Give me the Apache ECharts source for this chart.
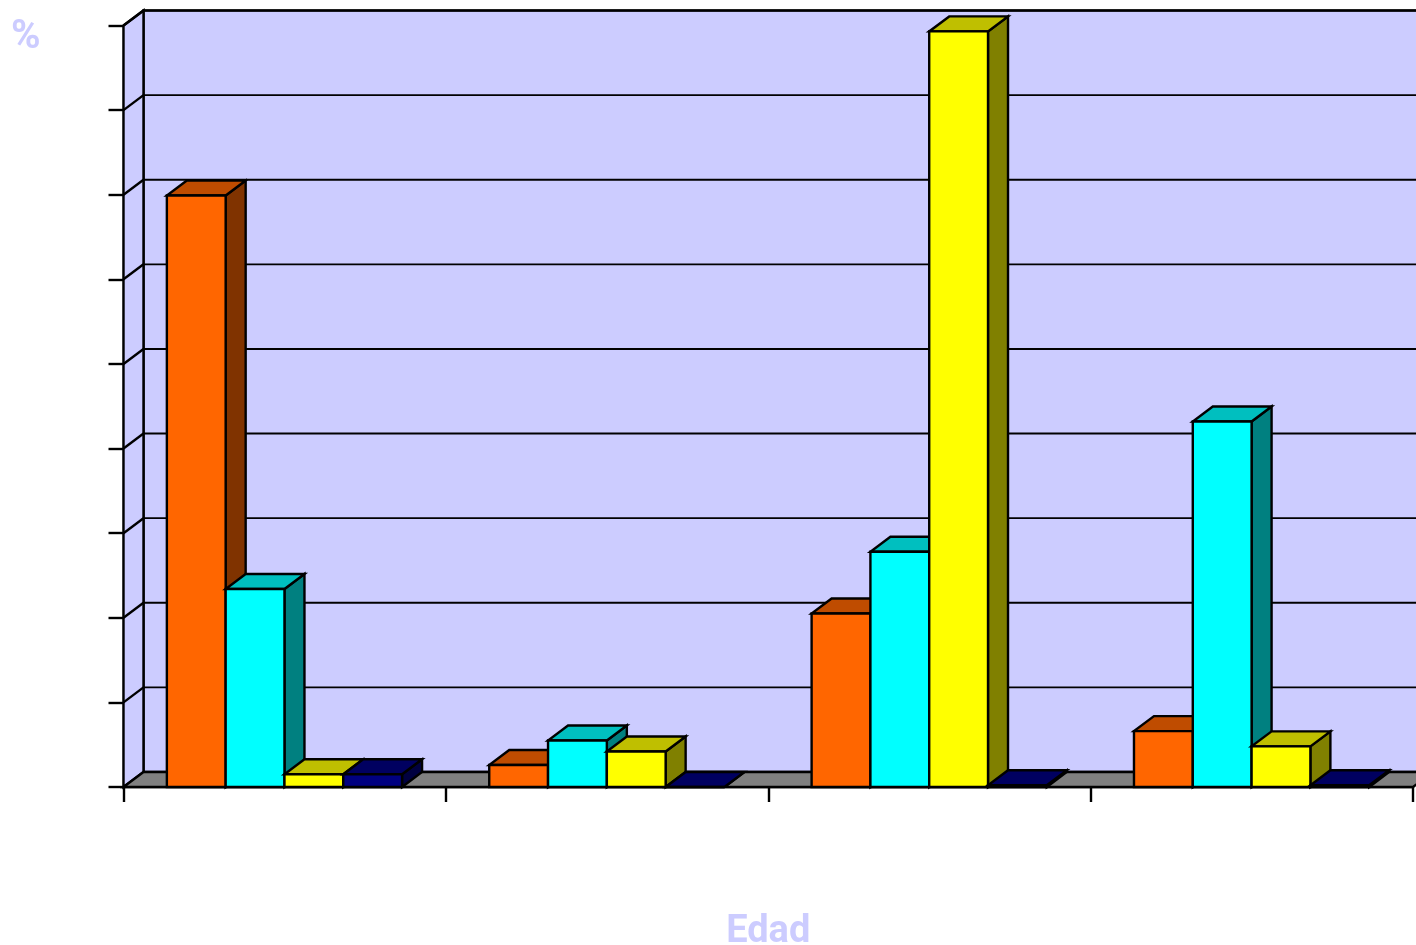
<!DOCTYPE html>
<html>
<head>
<meta charset="utf-8">
<style>html,body{margin:0;padding:0;background:#fff}#c{width:1416px;height:945px}</style>
<script src="https://cdn.jsdelivr.net/npm/echarts@6/dist/echarts.min.js"></script>
</head>
<body>
<div id="c"></div>
<script>
const categories = ['Grupo 1', 'Grupo 2', 'Grupo 3', 'Grupo 4'];
const seriesA = [69.9, 2.6, 20.5, 6.6];
const seriesB = [23.4, 5.5, 27.8, 43.2];
const seriesC = [1.5, 4.2, 89.3, 4.8];
const seriesD = [1.5, 0, 0.2, 0.2];
const yTicks = [0, 10, 20, 30, 40, 50, 60, 70, 80, 90];

const faceColors = ['#FF6600', '#00FFFF', '#FFFF00', '#000080'];
const topColors = ['#BF4C00', '#00BFBF', '#BFBF00', '#000060'];
const sideColors = ['#803300', '#008080', '#808000', '#000040'];
const DX = 20, DY = 15;
const GROUP_START = 0.1345, BAR_FRAC = 0.1824;
const LW = 2.4;

function poly(points, fill) {
  return { type: 'polygon', shape: { points }, style: { fill, stroke: '#000', lineWidth: LW } };
}

function renderBar(k) {
  return function (params, api) {
    const cat = api.value(0), val = api.value(1);
    const size = api.size([1, 0])[0];
    const cx = api.coord([cat, 0])[0];
    const y0 = api.coord([cat, 0])[1];
    const y = api.coord([cat, val])[1];
    const w = size * BAR_FRAC;
    const x0 = cx - size / 2 + size * GROUP_START + k * w;
    const x1 = x0 + w;
    return {
      type: 'group',
      children: [
        poly([[x1, y], [x1 + DX, y - DY], [x1 + DX, y0 - DY], [x1, y0]], sideColors[k]),
        poly([[x0, y], [x1, y], [x1 + DX, y - DY], [x0 + DX, y - DY]], topColors[k]),
        poly([[x0, y], [x1, y], [x1, y0], [x0, y0]], faceColors[k])
      ]
    };
  };
}

function renderWalls(params, api) {
  const cs = params.coordSys;
  const l = cs.x, r = cs.x + cs.width, t = cs.y, b = cs.y + cs.height;
  return {
    type: 'group',
    children: [
      poly([[l + DX, t - DY], [r + DX, t - DY], [r + DX, b - DY], [l + DX, b - DY]], '#CCCCFF'),
      poly([[l, t], [l + DX, t - DY], [l + DX, b - DY], [l, b]], '#CCCCFF'),
      poly([[l, b], [l + DX, b - DY], [r + DX, b - DY], [r, b]], '#808080')
    ]
  };
}

function renderGridLine(params, api) {
  const cs = params.coordSys;
  const l = cs.x, r = cs.x + cs.width;
  const y = api.coord([0, api.value(0)])[1];
  return {
    type: 'group',
    children: [
      { type: 'line', shape: { x1: l, y1: y, x2: l + DX, y2: y - DY }, style: { stroke: '#000', lineWidth: LW } },
      { type: 'line', shape: { x1: l + DX, y1: y - DY, x2: r + DX, y2: y - DY }, style: { stroke: '#000', lineWidth: 1.9 } }
    ]
  };
}

const seriesValues = [seriesA, seriesB, seriesC, seriesD];
const chart = echarts.init(document.getElementById('c'), null, { renderer: 'canvas' });
chart.setOption({
  animation: false,
  backgroundColor: '#ffffff',
  title: [
    { text: '%', left: 6, top: 13, textStyle: { color: '#CCCCFF', fontSize: 40, fontWeight: 'bold', fontFamily: 'Roboto' } }
  ],
  grid: { left: 123.5, right: 3, top: 25.5, bottom: 158, outerBoundsMode: 'none' },
  xAxis: {
    type: 'category',
    data: categories,
    name: 'Edad',
    nameLocation: 'middle',
    nameGap: 126,
    nameTextStyle: { color: '#CCCCFF', fontSize: 38, fontWeight: 'bold', fontFamily: 'Roboto' },
    axisLine: { show: true, lineStyle: { color: '#000', width: LW } },
    axisTick: { show: true, length: 15, alignWithLabel: false, lineStyle: { color: '#000', width: LW } },
    axisLabel: { show: false },
    splitLine: { show: false }
  },
  yAxis: {
    type: 'value',
    min: 0,
    max: 90,
    interval: 10,
    axisLine: { show: true, lineStyle: { color: '#000', width: LW } },
    axisTick: { show: true, length: 15, lineStyle: { color: '#000', width: LW } },
    axisLabel: { show: false },
    splitLine: { show: false }
  },
  series: [
    { type: 'custom', name: 'walls', z: 1, silent: true, data: [[0, 0]], renderItem: renderWalls },
    { type: 'custom', name: 'grid', z: 1.5, silent: true, data: yTicks.slice(1).map(v => [v]), encode: { y: 0 }, renderItem: renderGridLine }
  ].concat(seriesValues.map((vals, k) => ({
    type: 'custom',
    name: 'Serie ' + (k + 1),
    z: 3 + k,
    encode: { x: 0, y: 1 },
    data: vals.map((v, i) => [i, v]),
    renderItem: renderBar(k)
  })))
});
</script>
</body>
</html>
